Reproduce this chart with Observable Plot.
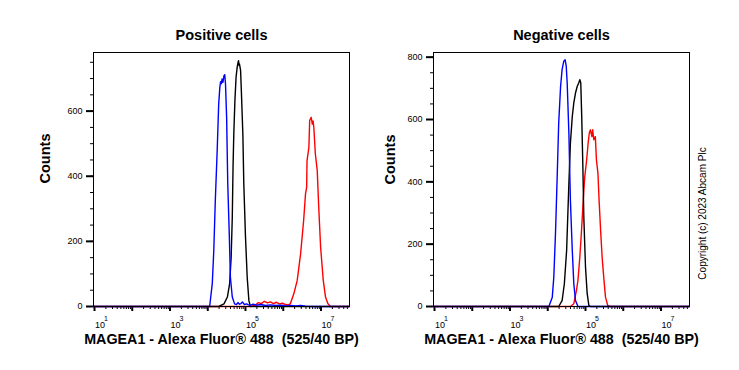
<!DOCTYPE html>
<html><head><meta charset="utf-8">
<script src="https://cdn.jsdelivr.net/npm/d3@7"></script>
<script src="https://cdn.jsdelivr.net/npm/@observablehq/plot@0.6"></script>
<style>
body{margin:0;background:#fff;}
#chart{position:relative;width:739px;height:370px;background:#fff;}
</style></head><body><div id="chart"></div>
<script>
// x values are log10(fluorescence intensity); y values are counts
const decades = [1, 2, 3, 4, 5, 6, 7];
const labeledDecades = [1, 3, 5, 7];
const titles = ["Positive cells", "Negative cells"];
const yLabel = "Counts";
const xLabel = "MAGEA1 - Alexa Fluor® 488\u00a0 (525/40 BP)";
const copyright = "Copyright (c) 2023 Abcam Plc";
const yMajorPos = [0, 200, 400, 600];
const yMajorNeg = [0, 200, 400, 600, 800];

// Positive cells
const posBlueX = [0.97, 4.05, 4.12, 4.16, 4.2, 4.25, 4.29, 4.32, 4.34, 4.36, 4.38, 4.4, 4.41, 4.43, 4.45, 4.47, 4.5, 4.53, 4.57, 4.6, 4.65, 4.71, 4.76, 4.8, 4.84, 4.88, 4.92, 4.97, 5.03, 5.08, 5.14, 5.2, 5.29, 5.4, 5.53, 5.66, 5.8, 5.93, 6.06, 6.19, 6.33, 6.46, 6.59, 6.72, 7.75];
const posBlueY = [0, 0, 70, 172, 325, 479, 622, 673, 690, 684, 699, 688, 694, 709, 712, 684, 581, 377, 223, 90, 29, 8, 6, 12, 7, 9, 14, 6, 8, 5, 4, 7, 4, 6, 3, 5, 3, 4, 2, 3, 2, 3, 1, 0, 0];
const posBlackX = [0.97, 4.29, 4.43, 4.52, 4.58, 4.62, 4.65, 4.67, 4.69, 4.72, 4.75, 4.78, 4.8, 4.815, 4.83, 4.84, 4.87, 4.89, 4.93, 4.955, 5.0, 5.045, 5.09, 5.13, 7.75];
const posBlackY = [0, 0, 8, 29, 70, 151, 274, 428, 530, 633, 704, 735, 748, 755, 740, 745, 725, 663, 530, 377, 213, 90, 18, 0, 0];
const posRedX = [0.97, 5.13, 5.27, 5.34, 5.42, 5.5, 5.58, 5.66, 5.74, 5.82, 5.9, 5.98, 6.06, 6.14, 6.19, 6.28, 6.37, 6.46, 6.54, 6.59, 6.62, 6.63, 6.68, 6.7, 6.74, 6.77, 6.79, 6.81, 6.85, 6.9, 6.94, 6.99, 7.06, 7.12, 7.18, 7.25, 7.75];
const posRedY = [0, 0, 5, 12, 9, 16, 11, 14, 9, 13, 8, 10, 6, 5, 9, 39, 80, 162, 264, 346, 366, 448, 489, 571, 581, 560, 570, 550, 469, 418, 305, 182, 80, 29, 9, 0, 0];

// Negative cells
const negBlueX = [0.97, 4.03, 4.12, 4.16, 4.205, 4.25, 4.29, 4.34, 4.38, 4.425, 4.46, 4.49, 4.515, 4.56, 4.6, 4.65, 4.69, 4.735, 4.8, 7.75];
const negBlueY = [0, 0, 30, 94, 234, 416, 588, 706, 760, 787, 792, 771, 717, 556, 341, 180, 73, 19, 0, 0];
const negBlackX = [0.97, 4.29, 4.38, 4.44, 4.5, 4.53, 4.56, 4.6, 4.65, 4.69, 4.735, 4.78, 4.82, 4.85, 4.875, 4.9, 4.93, 4.955, 5.0, 5.045, 5.09, 5.13, 7.75];
const negBlackY = [0, 0, 19, 73, 180, 288, 395, 524, 610, 653, 685, 706, 717, 728, 717, 610, 449, 288, 127, 41, 3, 0, 0];
const negRedX = [0.97, 4.6, 4.69, 4.76, 4.8, 4.85, 4.89, 4.94, 4.98, 5.03, 5.07, 5.1, 5.13, 5.17, 5.19, 5.22, 5.26, 5.29, 5.33, 5.36, 5.4, 5.44, 5.49, 5.53, 5.59, 5.66, 7.75];
const negRedY = [0, 0, 9, 52, 84, 159, 234, 341, 416, 470, 524, 556, 567, 545, 567, 535, 545, 470, 427, 341, 245, 159, 84, 30, 3, 0, 0];

const FONT = "'Liberation Sans', Arial, Helvetica, sans-serif";
const xDomain = [0.9735, 7.755];
const rows = (xs, ys) => xs.map((x, i) => ({x, y: ys[i]}));
const minorTicks = decades.concat([0]).flatMap(n => d3.range(2, 10).map(k => n + Math.log10(k)))
  .filter(v => v >= xDomain[0] && v <= xDomain[1]);

function panel(o) {
  return Plot.plot({
    width: o.width, height: 370,
    marginLeft: o.ml, marginRight: o.mr, marginTop: 52, marginBottom: 64,
    style: {fontFamily: FONT, background: "transparent", overflow: "visible"},
    x: {domain: xDomain},
    y: {domain: [0, o.yMax]},
    marks: [
      Plot.axisY({ticks: d3.range(0, o.yMax, 50), tickSize: 3, tickFormat: () => "", label: null}),
      Plot.axisY({ticks: o.yMajor, tickSize: 7, strokeWidth: 2, tickPadding: 4, fontSize: 9, label: null, tickFormat: d => String(d)}),
      Plot.axisX({ticks: minorTicks, tickSize: 3, tickFormat: () => "", label: null}),
      Plot.axisX({ticks: decades, tickSize: 5, strokeWidth: 2, tickFormat: () => "", label: null}),
      Plot.text(labeledDecades, {x: d => d, text: () => "10", frameAnchor: "bottom", lineAnchor: "middle", dy: 18.5, dx: 0.5, textAnchor: "start", fontSize: 9}),
      Plot.text(labeledDecades, {x: d => d, text: d => String(d), frameAnchor: "bottom", lineAnchor: "middle", dy: 12.5, dx: 9.5, textAnchor: "start", fontSize: 7}),
      Plot.line(rows(o.redX, o.redY), {x: "x", y: "y", stroke: "#ff0000", strokeWidth: 1.4}),
      Plot.line(rows(o.blackX, o.blackY), {x: "x", y: "y", stroke: "#000000", strokeWidth: 1.4}),
      Plot.line(rows(o.blueX, o.blueY), {x: "x", y: "y", stroke: "#0000ff", strokeWidth: 1.4}),
      Plot.frame({stroke: "black", strokeWidth: 1}),
      Plot.text([o.title], {frameAnchor: "top", lineAnchor: "middle", textAnchor: "middle", dy: -17, fontSize: 14.5, fontWeight: "bold"}),
      Plot.text([yLabel], {frameAnchor: "left", lineAnchor: "middle", textAnchor: "middle", rotate: -90, dx: o.countsDx, dy: o.countsDy, fontSize: 14.5, fontWeight: "bold"}),
      Plot.text([xLabel], {frameAnchor: "bottom", lineAnchor: "middle", textAnchor: "middle", dy: 33, fontSize: 14.3, fontWeight: "bold"}),
      ...(o.extra || [])
    ]
  });
}

const left = panel({
  width: 365, ml: 93, mr: 16, yMax: 780, yMajor: yMajorPos, title: titles[0],
  countsDx: -48, countsDy: -21,
  blueX: posBlueX, blueY: posBlueY, blackX: posBlackX, blackY: posBlackY, redX: posRedX, redY: posRedY
});
const right = panel({
  width: 374, ml: 68, mr: 50, yMax: 815, yMajor: yMajorNeg, title: titles[1],
  countsDx: -43, countsDy: -20,
  blueX: negBlueX, blueY: negBlueY, blackX: negBlackX, blackY: negBlackY, redX: negRedX, redY: negRedY,
  extra: [Plot.text([copyright], {frameAnchor: "right", lineAnchor: "middle", textAnchor: "middle", rotate: -90, dx: 13.5, dy: 34, fontSize: 10})]
});
for (const [el, x] of [[left, 0], [right, 365]]) {
  el.style.position = "absolute";
  el.style.left = x + "px";
  el.style.top = "0px";
  document.getElementById("chart").appendChild(el);
}
</script></body></html>
